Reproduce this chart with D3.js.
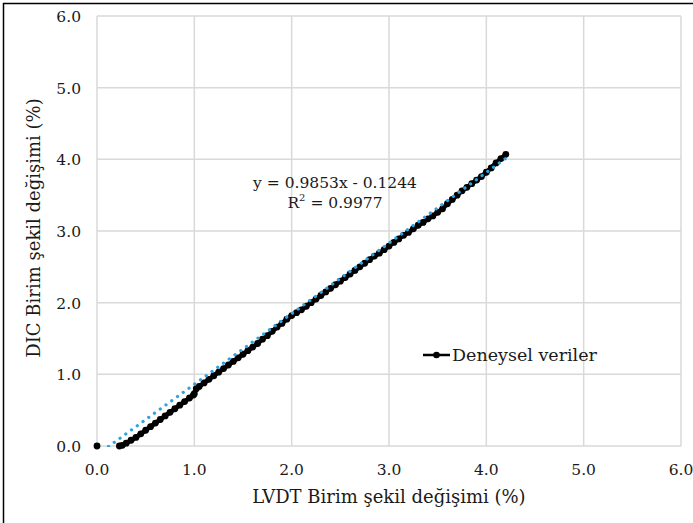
<!DOCTYPE html>
<html><head><meta charset="utf-8">
<script src="https://cdn.jsdelivr.net/npm/d3@7"></script>
<style>body{margin:0;background:#fff}svg{display:block}text{font-family:"DejaVu Serif","Liberation Serif",serif;fill:#1a1a1a}</style>
</head><body>
<svg id="c" width="693" height="523"></svg>
<script>
const xTicks = [0,1,2,3,4,5,6];
const yTicks = [0,1,2,3,4,5,6];
const tickLabels = ["0.0","1.0","2.0","3.0","4.0","5.0","6.0"];
const lvdt = [0.00,0.23,0.26,0.30,0.35,0.40,0.45,0.50,0.55,0.60,0.65,0.70,0.75,0.80,0.85,0.90,0.95,0.99,1.00,1.02,1.05,1.10,1.15,1.20,1.25,1.30,1.35,1.40,1.45,1.50,1.55,1.60,1.65,1.70,1.75,1.80,1.85,1.90,1.95,2.00,2.05,2.10,2.15,2.20,2.25,2.30,2.35,2.40,2.45,2.50,2.55,2.60,2.65,2.70,2.75,2.80,2.85,2.90,2.95,3.00,3.05,3.10,3.15,3.20,3.25,3.30,3.35,3.40,3.45,3.50,3.55,3.60,3.65,3.70,3.75,3.80,3.85,3.90,3.95,4.00,4.05,4.10,4.15,4.20];
const dic  = [0.00,0.00,0.01,0.04,0.08,0.12,0.17,0.22,0.27,0.32,0.37,0.42,0.47,0.52,0.57,0.62,0.67,0.71,0.73,0.80,0.83,0.88,0.93,0.98,1.03,1.08,1.13,1.18,1.23,1.28,1.33,1.38,1.43,1.49,1.54,1.60,1.66,1.71,1.77,1.82,1.86,1.90,1.95,2.00,2.05,2.10,2.15,2.20,2.25,2.30,2.35,2.40,2.45,2.50,2.55,2.60,2.65,2.69,2.74,2.79,2.84,2.89,2.94,2.98,3.03,3.08,3.12,3.17,3.21,3.26,3.31,3.38,3.44,3.50,3.56,3.61,3.66,3.71,3.76,3.82,3.88,3.95,4.01,4.07];
const slope = 0.9853, intercept = -0.1244;
const eqText = "y = 0.9853x - 0.1244";
const seriesName = "Deneysel veriler";

const svg = d3.select("#c");
const m = {l:97, r:681, t:16, b:446};
const x = d3.scaleLinear().domain([0,6]).range([m.l, m.r]);
const y = d3.scaleLinear().domain([0,6]).range([m.b, m.t]);

// outer frame
svg.append("line").attr("x1",3).attr("x2",693).attr("y1",3.5).attr("y2",3.5).attr("stroke","#000").attr("stroke-width",1.5);
svg.append("line").attr("x1",3.5).attr("x2",3.5).attr("y1",3).attr("y2",523).attr("stroke","#000").attr("stroke-width",1.5);

// grid
const g = svg.append("g");
g.selectAll("line.v").data(xTicks).join("line").attr("class","v")
 .attr("x1",d=>x(d)).attr("x2",d=>x(d)).attr("y1",m.t).attr("y2",m.b)
 .attr("stroke","#d9d9d9").attr("stroke-width",1.5);
g.selectAll("line.h").data(yTicks).join("line").attr("class","h")
 .attr("x1",m.l).attr("x2",m.r).attr("y1",d=>y(d)).attr("y2",d=>y(d))
 .attr("stroke","#d9d9d9").attr("stroke-width",1.5);

// tick labels
svg.append("g").selectAll("text").data(xTicks).join("text")
 .attr("x",d=>x(d)).attr("y",475).attr("text-anchor","middle").attr("font-size",15.5)
 .text((d,i)=>tickLabels[i]);
svg.append("g").selectAll("text").data(yTicks).join("text")
 .attr("x",81).attr("y",d=>y(d)+6).attr("text-anchor","end").attr("font-size",15.5)
 .text((d,i)=>tickLabels[i]);

// axis titles
svg.append("text").attr("x",389).attr("y",503).attr("text-anchor","middle").attr("font-size",18)
 .text("LVDT Birim şekil değişimi (%)");
svg.append("text").attr("transform","translate(40,228) rotate(-90)").attr("text-anchor","middle").attr("font-size",18)
 .text("DIC Birim şekil değişimi (%)");

// data
const pts = lvdt.map((v,i)=>[v,dic[i]]);
svg.append("path").datum(pts.slice(1))
 .attr("d", d3.line().x(d=>x(d[0])).y(d=>y(d[1])))
 .attr("fill","none").attr("stroke","#000").attr("stroke-width",4.5).attr("stroke-linejoin","round");
svg.append("g").selectAll("circle").data(pts).join("circle")
 .attr("cx",d=>x(d[0])).attr("cy",d=>y(d[1])).attr("r",3.4).attr("fill","#000");

// trendline
svg.append("clipPath").attr("id","clip").append("rect")
 .attr("x",m.l).attr("y",m.t).attr("width",m.r-m.l).attr("height",m.b-m.t+1);
const x0 = d3.min(lvdt), x1 = d3.max(lvdt);
svg.append("line").attr("clip-path","url(#clip)")
 .attr("x1",x(x0)).attr("y1",y(slope*x0+intercept))
 .attr("x2",x(x1)).attr("y2",y(slope*x1+intercept))
 .attr("stroke","#2fa3e0").attr("stroke-width",3.2).attr("stroke-linecap","round")
 .attr("stroke-dasharray","0.1 7");

// equation
svg.append("text").attr("x",335).attr("y",188).attr("text-anchor","middle").attr("font-size",15.5).text(eqText);
const r2 = svg.append("text").attr("x",335).attr("y",208).attr("text-anchor","middle").attr("font-size",15.5);
r2.append("tspan").text("R");
r2.append("tspan").attr("dy",-7).attr("font-size",10).text("2");
r2.append("tspan").attr("dy",7).text(" = 0.9977");

// legend
svg.append("line").attr("x1",423).attr("x2",450).attr("y1",355).attr("y2",355).attr("stroke","#000").attr("stroke-width",2.5);
svg.append("circle").attr("cx",436.5).attr("cy",355).attr("r",3.3).attr("fill","#000");
svg.append("text").attr("x",452).attr("y",361).attr("font-size",17.5).text(seriesName);
</script>
</body></html>
